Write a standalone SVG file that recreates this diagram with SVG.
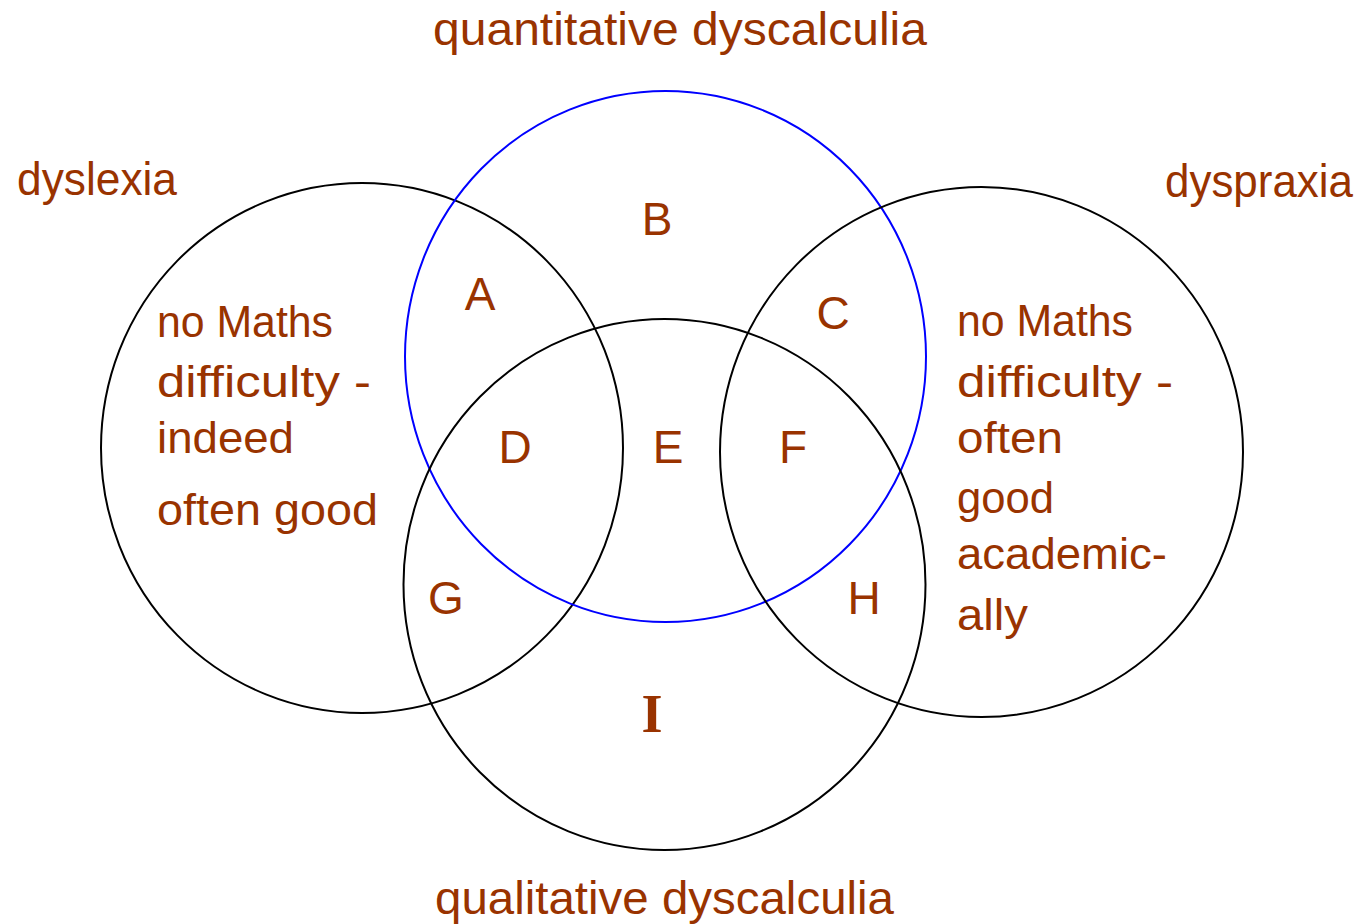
<svg xmlns="http://www.w3.org/2000/svg" width="1361" height="924" viewBox="0 0 1361 924">
<style>
  .ring { fill: none; stroke: #000000; stroke-width: 2; }
  .blue { stroke: #0000ff; }
  text { font-family: "Liberation Sans", Arial, sans-serif; fill: #993300; }
  .title { font-size: 46px; }
  .body { font-size: 44px; }
  .letter { font-size: 46px; text-anchor: middle; }
  .big { font-family: "Liberation Serif", "Times New Roman", serif; font-weight: bold; font-size: 54px; text-anchor: middle; }
</style>
<rect width="1361" height="924" fill="#ffffff"/>
<g id="connectors"></g>
<g id="dyslexia">
  <ellipse class="ring" cx="362" cy="448" rx="261" ry="265"/>
  <text class="title" x="17" y="195" textLength="160" lengthAdjust="spacingAndGlyphs">dyslexia</text>
  <text class="body" x="157" y="337" textLength="176" lengthAdjust="spacingAndGlyphs">no Maths</text>
  <text class="body" x="157" y="397" textLength="214" lengthAdjust="spacingAndGlyphs">difficulty -</text>
  <text class="body" x="157" y="453" textLength="137" lengthAdjust="spacingAndGlyphs">indeed</text>
  <text class="body" x="157" y="525" textLength="221" lengthAdjust="spacingAndGlyphs">often good</text>
</g>
<g id="quantitative">
  <ellipse class="ring blue" cx="665.5" cy="356.5" rx="260.5" ry="265.5"/>
  <text class="title" x="433" y="45" textLength="494" lengthAdjust="spacingAndGlyphs">quantitative dyscalculia</text>
</g>
<g id="dyspraxia">
  <ellipse class="ring" cx="981.5" cy="452" rx="261.5" ry="265"/>
  <text class="title" x="1165" y="197" textLength="188" lengthAdjust="spacingAndGlyphs">dyspraxia</text>
  <text class="body" x="957" y="336" textLength="176" lengthAdjust="spacingAndGlyphs">no Maths</text>
  <text class="body" x="957" y="397" textLength="216" lengthAdjust="spacingAndGlyphs">difficulty -</text>
  <text class="body" x="957" y="453" textLength="106" lengthAdjust="spacingAndGlyphs">often</text>
  <text class="body" x="957" y="513" textLength="97" lengthAdjust="spacingAndGlyphs">good</text>
  <text class="body" x="957" y="569" textLength="210" lengthAdjust="spacingAndGlyphs">academic-</text>
  <text class="body" x="957" y="630" textLength="71" lengthAdjust="spacingAndGlyphs">ally</text>
</g>
<g id="qualitative">
  <ellipse class="ring" cx="664.5" cy="584.5" rx="261" ry="265.5"/>
  <text class="title" x="435" y="914" textLength="459" lengthAdjust="spacingAndGlyphs">qualitative dyscalculia</text>
</g>
<g id="regions">
  <text class="letter" x="480" y="310">A</text>
  <text class="letter" x="657" y="235">B</text>
  <text class="letter" x="833" y="329">C</text>
  <text class="letter" x="515" y="463">D</text>
  <text class="letter" x="668" y="463">E</text>
  <text class="letter" x="793" y="463">F</text>
  <text class="letter" x="446" y="614">G</text>
  <text class="letter" x="864" y="614">H</text>
  <text class="big" x="652" y="732">I</text>
</g>
</svg>
